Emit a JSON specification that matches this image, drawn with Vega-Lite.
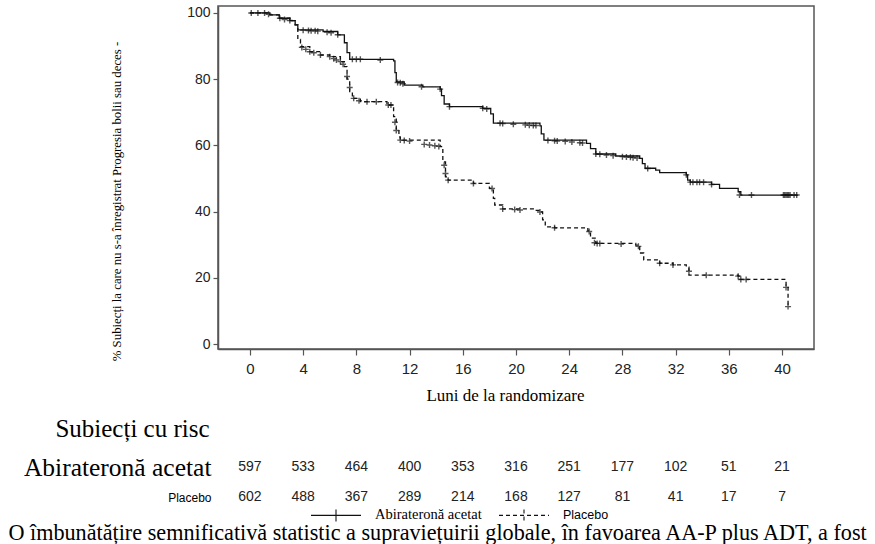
{
  "$schema": "https://vega.github.io/schema/vega-lite/v6.json",
  "padding": {"left": 8, "top": 5, "right": 0, "bottom": 0},
  "background": "white",
  "bounds": "flush",
  "spacing": 103,
  "config": {"view": {"stroke": null}, "font": "Liberation Sans"},
  "title": {
    "text": ["O îmbunătățire semnificativă statistic a supraviețuirii globale, în favoarea AA-P plus ADT, a fost", "observată în analiza intermediară, cu o reducere de 34% a riscului de deces comparativ cu placebo plus ADT"],
    "orient": "bottom", "anchor": "start", "frame": "bounds",
    "font": "Liberation Serif", "fontSize": 22.2, "fontWeight": "normal", "color": "#000",
    "lineHeight": 22.5, "offset": -2, "dx": -15
  },
  "datasets": {
    "curves": [
      {"group": "Abirateronă acetat", "month": 0, "pct": 100},
      {"group": "Abirateronă acetat", "month": 1.5, "pct": 99.4},
      {"group": "Abirateronă acetat", "month": 2.2, "pct": 98.4},
      {"group": "Abirateronă acetat", "month": 3.0, "pct": 97.7},
      {"group": "Abirateronă acetat", "month": 3.4, "pct": 96.4},
      {"group": "Abirateronă acetat", "month": 3.6, "pct": 94.9},
      {"group": "Abirateronă acetat", "month": 5.5, "pct": 94.4},
      {"group": "Abirateronă acetat", "month": 6.6, "pct": 93.4},
      {"group": "Abirateronă acetat", "month": 7.1, "pct": 91.0},
      {"group": "Abirateronă acetat", "month": 7.3, "pct": 88.0},
      {"group": "Abirateronă acetat", "month": 7.5, "pct": 86.0},
      {"group": "Abirateronă acetat", "month": 10.8, "pct": 85.5},
      {"group": "Abirateronă acetat", "month": 10.9, "pct": 82.0},
      {"group": "Abirateronă acetat", "month": 11.0, "pct": 79.2},
      {"group": "Abirateronă acetat", "month": 11.6, "pct": 78.2},
      {"group": "Abirateronă acetat", "month": 13.0, "pct": 77.7},
      {"group": "Abirateronă acetat", "month": 14.3, "pct": 77.0},
      {"group": "Abirateronă acetat", "month": 14.4, "pct": 75.0},
      {"group": "Abirateronă acetat", "month": 14.6, "pct": 72.5},
      {"group": "Abirateronă acetat", "month": 15.0, "pct": 71.7},
      {"group": "Abirateronă acetat", "month": 17.5, "pct": 71.2},
      {"group": "Abirateronă acetat", "month": 18.1, "pct": 69.5},
      {"group": "Abirateronă acetat", "month": 18.3, "pct": 66.7},
      {"group": "Abirateronă acetat", "month": 21.8, "pct": 65.9},
      {"group": "Abirateronă acetat", "month": 21.9, "pct": 63.5},
      {"group": "Abirateronă acetat", "month": 22.1, "pct": 61.6},
      {"group": "Abirateronă acetat", "month": 25.3, "pct": 60.6},
      {"group": "Abirateronă acetat", "month": 25.6, "pct": 59.0},
      {"group": "Abirateronă acetat", "month": 26.0, "pct": 57.4},
      {"group": "Abirateronă acetat", "month": 27.5, "pct": 56.8},
      {"group": "Abirateronă acetat", "month": 29.3, "pct": 56.1},
      {"group": "Abirateronă acetat", "month": 29.5, "pct": 54.5},
      {"group": "Abirateronă acetat", "month": 29.7, "pct": 53.1},
      {"group": "Abirateronă acetat", "month": 30.5, "pct": 52.5},
      {"group": "Abirateronă acetat", "month": 30.8, "pct": 51.8},
      {"group": "Abirateronă acetat", "month": 32.8, "pct": 51.1},
      {"group": "Abirateronă acetat", "month": 32.9, "pct": 49.5},
      {"group": "Abirateronă acetat", "month": 33.1, "pct": 48.9},
      {"group": "Abirateronă acetat", "month": 34.7, "pct": 48.2},
      {"group": "Abirateronă acetat", "month": 35.3, "pct": 47.0},
      {"group": "Abirateronă acetat", "month": 36.7, "pct": 46.0},
      {"group": "Abirateronă acetat", "month": 36.9, "pct": 45.0},
      {"group": "Abirateronă acetat", "month": 41.2, "pct": 45.0},
      {"group": "Placebo", "month": 0, "pct": 100},
      {"group": "Placebo", "month": 1.5, "pct": 99.4},
      {"group": "Placebo", "month": 2.2, "pct": 98.4},
      {"group": "Placebo", "month": 3.0, "pct": 97.7},
      {"group": "Placebo", "month": 3.4, "pct": 96.4},
      {"group": "Placebo", "month": 3.6, "pct": 92.0},
      {"group": "Placebo", "month": 3.8, "pct": 89.8},
      {"group": "Placebo", "month": 4.5, "pct": 88.3},
      {"group": "Placebo", "month": 5.3, "pct": 87.3},
      {"group": "Placebo", "month": 6.0, "pct": 86.8},
      {"group": "Placebo", "month": 6.8, "pct": 85.3},
      {"group": "Placebo", "month": 7.1, "pct": 83.8},
      {"group": "Placebo", "month": 7.3, "pct": 80.0},
      {"group": "Placebo", "month": 7.5, "pct": 76.0},
      {"group": "Placebo", "month": 7.7, "pct": 74.2},
      {"group": "Placebo", "month": 8.3, "pct": 73.2},
      {"group": "Placebo", "month": 10.3, "pct": 72.2},
      {"group": "Placebo", "month": 10.8, "pct": 68.7},
      {"group": "Placebo", "month": 11.0, "pct": 65.0},
      {"group": "Placebo", "month": 11.2, "pct": 62.6},
      {"group": "Placebo", "month": 11.3, "pct": 61.6},
      {"group": "Placebo", "month": 14.3, "pct": 59.6},
      {"group": "Placebo", "month": 14.5, "pct": 55.0},
      {"group": "Placebo", "month": 14.7, "pct": 50.5},
      {"group": "Placebo", "month": 14.9, "pct": 49.5},
      {"group": "Placebo", "month": 16.8, "pct": 48.5},
      {"group": "Placebo", "month": 18.0, "pct": 47.0},
      {"group": "Placebo", "month": 18.3, "pct": 44.0},
      {"group": "Placebo", "month": 18.4, "pct": 42.0},
      {"group": "Placebo", "month": 19.0, "pct": 40.8},
      {"group": "Placebo", "month": 21.3, "pct": 40.4},
      {"group": "Placebo", "month": 21.8, "pct": 39.9},
      {"group": "Placebo", "month": 22.0, "pct": 37.5},
      {"group": "Placebo", "month": 22.2, "pct": 35.4},
      {"group": "Placebo", "month": 22.9, "pct": 35.1},
      {"group": "Placebo", "month": 25.4, "pct": 34.2},
      {"group": "Placebo", "month": 25.6, "pct": 32.0},
      {"group": "Placebo", "month": 26.0, "pct": 30.4},
      {"group": "Placebo", "month": 29.0, "pct": 29.9},
      {"group": "Placebo", "month": 29.3, "pct": 27.5},
      {"group": "Placebo", "month": 29.6, "pct": 25.4},
      {"group": "Placebo", "month": 30.8, "pct": 24.4},
      {"group": "Placebo", "month": 31.8, "pct": 23.9},
      {"group": "Placebo", "month": 32.8, "pct": 23.2},
      {"group": "Placebo", "month": 33.0, "pct": 20.8},
      {"group": "Placebo", "month": 36.7, "pct": 20.5},
      {"group": "Placebo", "month": 36.8, "pct": 19.5},
      {"group": "Placebo", "month": 40.2, "pct": 19.5},
      {"group": "Placebo", "month": 40.3, "pct": 17.1},
      {"group": "Placebo", "month": 40.45, "pct": 11.3}
    ],
    "censor": [
      {"group": "Abirateronă acetat", "month": 0.1, "pct": 100},
      {"group": "Abirateronă acetat", "month": 0.6, "pct": 100},
      {"group": "Abirateronă acetat", "month": 1.1, "pct": 100},
      {"group": "Abirateronă acetat", "month": 1.4, "pct": 99.6},
      {"group": "Abirateronă acetat", "month": 2.25, "pct": 98.4},
      {"group": "Abirateronă acetat", "month": 2.6, "pct": 98.0},
      {"group": "Abirateronă acetat", "month": 3.0, "pct": 97.7},
      {"group": "Abirateronă acetat", "month": 4.0, "pct": 94.8},
      {"group": "Abirateronă acetat", "month": 4.4, "pct": 94.7},
      {"group": "Abirateronă acetat", "month": 4.6, "pct": 94.6},
      {"group": "Abirateronă acetat", "month": 4.9, "pct": 94.6},
      {"group": "Abirateronă acetat", "month": 5.1, "pct": 94.5},
      {"group": "Abirateronă acetat", "month": 5.8, "pct": 94.2},
      {"group": "Abirateronă acetat", "month": 6.1, "pct": 94.0},
      {"group": "Abirateronă acetat", "month": 6.6, "pct": 93.4},
      {"group": "Abirateronă acetat", "month": 7.7, "pct": 86.0},
      {"group": "Abirateronă acetat", "month": 8.0, "pct": 86.0},
      {"group": "Abirateronă acetat", "month": 8.3, "pct": 86.0},
      {"group": "Abirateronă acetat", "month": 9.8, "pct": 85.8},
      {"group": "Abirateronă acetat", "month": 11.1, "pct": 79.0},
      {"group": "Abirateronă acetat", "month": 11.3, "pct": 78.9},
      {"group": "Abirateronă acetat", "month": 11.5, "pct": 78.6},
      {"group": "Abirateronă acetat", "month": 12.9, "pct": 77.7},
      {"group": "Abirateronă acetat", "month": 14.3, "pct": 77.0},
      {"group": "Abirateronă acetat", "month": 15.0, "pct": 71.7},
      {"group": "Abirateronă acetat", "month": 17.5, "pct": 71.2},
      {"group": "Abirateronă acetat", "month": 17.8, "pct": 71.0},
      {"group": "Abirateronă acetat", "month": 18.8, "pct": 66.7},
      {"group": "Abirateronă acetat", "month": 19.0, "pct": 66.6},
      {"group": "Abirateronă acetat", "month": 19.8, "pct": 66.4},
      {"group": "Abirateronă acetat", "month": 20.7, "pct": 66.2},
      {"group": "Abirateronă acetat", "month": 21.0, "pct": 66.1},
      {"group": "Abirateronă acetat", "month": 21.3, "pct": 66.0},
      {"group": "Abirateronă acetat", "month": 21.5, "pct": 66.0},
      {"group": "Abirateronă acetat", "month": 22.4, "pct": 61.5},
      {"group": "Abirateronă acetat", "month": 22.9, "pct": 61.4},
      {"group": "Abirateronă acetat", "month": 23.1, "pct": 61.3},
      {"group": "Abirateronă acetat", "month": 23.7, "pct": 61.2},
      {"group": "Abirateronă acetat", "month": 24.2, "pct": 61.0},
      {"group": "Abirateronă acetat", "month": 24.8, "pct": 60.8},
      {"group": "Abirateronă acetat", "month": 25.0, "pct": 60.7},
      {"group": "Abirateronă acetat", "month": 26.0, "pct": 57.4},
      {"group": "Abirateronă acetat", "month": 26.3, "pct": 57.3},
      {"group": "Abirateronă acetat", "month": 26.8, "pct": 57.1},
      {"group": "Abirateronă acetat", "month": 27.3, "pct": 56.9},
      {"group": "Abirateronă acetat", "month": 28.0, "pct": 56.6},
      {"group": "Abirateronă acetat", "month": 28.3, "pct": 56.5},
      {"group": "Abirateronă acetat", "month": 28.6, "pct": 56.4},
      {"group": "Abirateronă acetat", "month": 28.8, "pct": 56.3},
      {"group": "Abirateronă acetat", "month": 29.1, "pct": 56.2},
      {"group": "Abirateronă acetat", "month": 29.9, "pct": 53.0},
      {"group": "Abirateronă acetat", "month": 32.8, "pct": 51.1},
      {"group": "Abirateronă acetat", "month": 33.1, "pct": 48.9},
      {"group": "Abirateronă acetat", "month": 33.3, "pct": 48.9},
      {"group": "Abirateronă acetat", "month": 33.6, "pct": 48.9},
      {"group": "Abirateronă acetat", "month": 33.8, "pct": 48.9},
      {"group": "Abirateronă acetat", "month": 34.1, "pct": 48.9},
      {"group": "Abirateronă acetat", "month": 34.7, "pct": 48.2},
      {"group": "Abirateronă acetat", "month": 36.8, "pct": 45.0},
      {"group": "Abirateronă acetat", "month": 37.7, "pct": 45.0},
      {"group": "Abirateronă acetat", "month": 40.1, "pct": 45.0},
      {"group": "Abirateronă acetat", "month": 40.2, "pct": 45.0},
      {"group": "Abirateronă acetat", "month": 40.3, "pct": 45.0},
      {"group": "Abirateronă acetat", "month": 40.4, "pct": 45.0},
      {"group": "Abirateronă acetat", "month": 40.5, "pct": 45.0},
      {"group": "Abirateronă acetat", "month": 40.6, "pct": 45.0},
      {"group": "Abirateronă acetat", "month": 40.9, "pct": 45.0},
      {"group": "Abirateronă acetat", "month": 41.1, "pct": 45.0},
      {"group": "Placebo", "month": 3.9, "pct": 89.6},
      {"group": "Placebo", "month": 4.2, "pct": 89.0},
      {"group": "Placebo", "month": 4.5, "pct": 88.3},
      {"group": "Placebo", "month": 4.8, "pct": 88.0},
      {"group": "Placebo", "month": 5.3, "pct": 87.3},
      {"group": "Placebo", "month": 6.0, "pct": 86.8},
      {"group": "Placebo", "month": 6.3, "pct": 86.2},
      {"group": "Placebo", "month": 6.5, "pct": 85.8},
      {"group": "Placebo", "month": 6.8, "pct": 85.3},
      {"group": "Placebo", "month": 7.0, "pct": 84.5},
      {"group": "Placebo", "month": 7.3, "pct": 80.8},
      {"group": "Placebo", "month": 7.5, "pct": 77.5},
      {"group": "Placebo", "month": 7.8, "pct": 74.2},
      {"group": "Placebo", "month": 8.2, "pct": 73.5},
      {"group": "Placebo", "month": 8.8, "pct": 73.2},
      {"group": "Placebo", "month": 9.5, "pct": 73.2},
      {"group": "Placebo", "month": 10.4, "pct": 72.2},
      {"group": "Placebo", "month": 10.6, "pct": 72.2},
      {"group": "Placebo", "month": 10.9, "pct": 67.0},
      {"group": "Placebo", "month": 11.0, "pct": 64.5},
      {"group": "Placebo", "month": 11.3, "pct": 61.6},
      {"group": "Placebo", "month": 11.6, "pct": 61.5},
      {"group": "Placebo", "month": 12.0, "pct": 61.3},
      {"group": "Placebo", "month": 13.1, "pct": 60.3},
      {"group": "Placebo", "month": 13.5, "pct": 60.1},
      {"group": "Placebo", "month": 13.9, "pct": 59.9},
      {"group": "Placebo", "month": 14.2, "pct": 59.7},
      {"group": "Placebo", "month": 14.6, "pct": 54.0},
      {"group": "Placebo", "month": 14.7, "pct": 51.5},
      {"group": "Placebo", "month": 14.9, "pct": 49.5},
      {"group": "Placebo", "month": 16.8, "pct": 48.5},
      {"group": "Placebo", "month": 18.2, "pct": 47.0},
      {"group": "Placebo", "month": 19.0, "pct": 40.8},
      {"group": "Placebo", "month": 19.9, "pct": 40.6},
      {"group": "Placebo", "month": 20.3, "pct": 40.5},
      {"group": "Placebo", "month": 21.8, "pct": 39.9},
      {"group": "Placebo", "month": 22.9, "pct": 35.1},
      {"group": "Placebo", "month": 25.5, "pct": 34.0},
      {"group": "Placebo", "month": 25.9, "pct": 30.6},
      {"group": "Placebo", "month": 26.1, "pct": 30.4},
      {"group": "Placebo", "month": 26.3, "pct": 30.4},
      {"group": "Placebo", "month": 27.9, "pct": 30.2},
      {"group": "Placebo", "month": 29.2, "pct": 29.5},
      {"group": "Placebo", "month": 30.8, "pct": 24.4},
      {"group": "Placebo", "month": 31.8, "pct": 23.9},
      {"group": "Placebo", "month": 33.0, "pct": 22.0},
      {"group": "Placebo", "month": 34.3, "pct": 20.8},
      {"group": "Placebo", "month": 36.7, "pct": 20.5},
      {"group": "Placebo", "month": 36.9, "pct": 19.5},
      {"group": "Placebo", "month": 37.3, "pct": 19.5},
      {"group": "Placebo", "month": 40.3, "pct": 17.1},
      {"group": "Placebo", "month": 40.45, "pct": 11.3}
    ],
    "risk": [
      {"group": "Abirateronă acetat", "month": 0, "n": 597},
      {"group": "Abirateronă acetat", "month": 4, "n": 533},
      {"group": "Abirateronă acetat", "month": 8, "n": 464},
      {"group": "Abirateronă acetat", "month": 12, "n": 400},
      {"group": "Abirateronă acetat", "month": 16, "n": 353},
      {"group": "Abirateronă acetat", "month": 20, "n": 316},
      {"group": "Abirateronă acetat", "month": 24, "n": 251},
      {"group": "Abirateronă acetat", "month": 28, "n": 177},
      {"group": "Abirateronă acetat", "month": 32, "n": 102},
      {"group": "Abirateronă acetat", "month": 36, "n": 51},
      {"group": "Abirateronă acetat", "month": 40, "n": 21},
      {"group": "Placebo", "month": 0, "n": 602},
      {"group": "Placebo", "month": 4, "n": 488},
      {"group": "Placebo", "month": 8, "n": 367},
      {"group": "Placebo", "month": 12, "n": 289},
      {"group": "Placebo", "month": 16, "n": 214},
      {"group": "Placebo", "month": 20, "n": 168},
      {"group": "Placebo", "month": 24, "n": 127},
      {"group": "Placebo", "month": 28, "n": 81},
      {"group": "Placebo", "month": 32, "n": 41},
      {"group": "Placebo", "month": 36, "n": 17},
      {"group": "Placebo", "month": 40, "n": 7}
    ]
  },
  "vconcat": [
    {
      "width": 596,
      "height": 343,
      "view": {"stroke": "#555", "strokeWidth": 1.5},
      "layer": [
        {
          "data": {"name": "curves"},
          "mark": {"type": "line", "interpolate": "step-after", "color": "#111", "strokeWidth": 1.3},
          "encoding": {
            "x": {
              "field": "month", "type": "quantitative",
              "scale": {"domain": [-2.4, 42.4], "nice": false, "zero": false},
              "axis": {
                "values": [0, 4, 8, 12, 16, 20, 24, 28, 32, 36, 40],
                "title": "Luni de la randomizare",
                "titleFont": "Liberation Serif", "titleFontSize": 17, "titleFontWeight": "normal", "titleColor": "#000",
                "titleX": 287, "titleY": 46, "titleBaseline": "middle",
                "labelFont": "Liberation Sans Narrow, Liberation Sans", "labelFontSize": 15, "labelColor": "#222",
                "tickSize": 6, "tickColor": "#555", "tickWidth": 1.2,
                "domainColor": "#555", "domainWidth": 1.5, "labelPadding": 6, "grid": false
              }
            },
            "y": {
              "field": "pct", "type": "quantitative",
              "scale": {"domain": [-1.5, 102.1], "nice": false, "zero": false},
              "axis": {
                "values": [0, 20, 40, 60, 80, 100],
                "title": "% Subiecți la care nu s-a înregistrat Progresia bolii  sau deces   -",
                "titleFont": "Liberation Serif", "titleFontSize": 12.8, "titleFontWeight": "normal", "titleColor": "#000",
                "titleX": -102, "titleY": 195, "titleBaseline": "middle", "titleAlign": "center", "titleAngle": -90,
                "labelFont": "Liberation Sans", "labelFontSize": 14, "labelColor": "#222",
                "tickSize": 5, "tickColor": "#555", "tickWidth": 1.2,
                "domainColor": "#555", "domainWidth": 1.5, "labelPadding": 3, "grid": false
              }
            },
            "strokeDash": {
              "field": "group", "type": "nominal",
              "scale": {"domain": ["Abirateronă acetat", "Placebo"], "range": [[1, 0], [4, 3]]},
              "legend": {
                "title": null, "orient": "none", "legendX": 92, "legendY": 483, "direction": "horizontal",
                "symbolType": "M-1,0H1M0,-0.24V0.24", "symbolSize": 2500,
                "symbolStrokeColor": "#111", "symbolStrokeWidth": 1.1, "symbolFillColor": "transparent",
                "labelFont": "Liberation Serif", "labelFontSize": 14.5, "labelColor": "#000",
                "labelOffset": 13, "columnPadding": 14,
                "encode": {
                  "labels": {
                    "update": {
                      "font": {"signal": "datum.label === 'Placebo' ? 'Liberation Sans' : 'Liberation Serif'"},
                      "fontSize": {"signal": "datum.label === 'Placebo' ? 12.5 : 14.5"}
                    }
                  }
                }
              }
            }
          }
        },
        {
          "data": {"name": "censor"},
          "mark": {"type": "point", "shape": "M-1,0H1M0,-1V1", "filled": false, "color": "#111", "strokeWidth": 1.4, "size": 36},
          "encoding": {
            "x": {"field": "month", "type": "quantitative"},
            "y": {"field": "pct", "type": "quantitative"}
          }
        }
      ]
    },
    {
      "width": 596,
      "height": 60,
      "data": {"name": "risk"},
      "title": {
        "text": "Subiecți cu risc", "anchor": "start", "frame": "bounds",
        "font": "Liberation Serif", "fontSize": 25, "fontWeight": "normal", "color": "#000",
        "offset": 10, "dx": 32
      },
      "mark": {"type": "text", "font": "Liberation Sans Narrow, Liberation Sans", "fontSize": 14, "color": "#222"},
      "encoding": {
        "x": {"field": "month", "type": "quantitative", "scale": {"domain": [-2.4, 42.4], "nice": false, "zero": false}, "axis": null},
        "y": {
          "field": "group", "type": "nominal", "sort": ["Abirateronă acetat", "Placebo"],
          "scale": {"paddingInner": 0, "paddingOuter": 0},
          "axis": {
            "title": null, "domain": false, "ticks": false, "labelPadding": 7, "labelColor": "#000", "labelLimit": 400,
            "labelFont": {"condition": {"test": "datum.value === 'Placebo'", "value": "Liberation Sans"}, "value": "Liberation Serif"},
            "labelFontSize": {"condition": {"test": "datum.value === 'Placebo'", "value": 12}, "value": 25.5}
          }
        },
        "text": {"field": "n", "type": "quantitative"}
      }
    }
  ]
}
